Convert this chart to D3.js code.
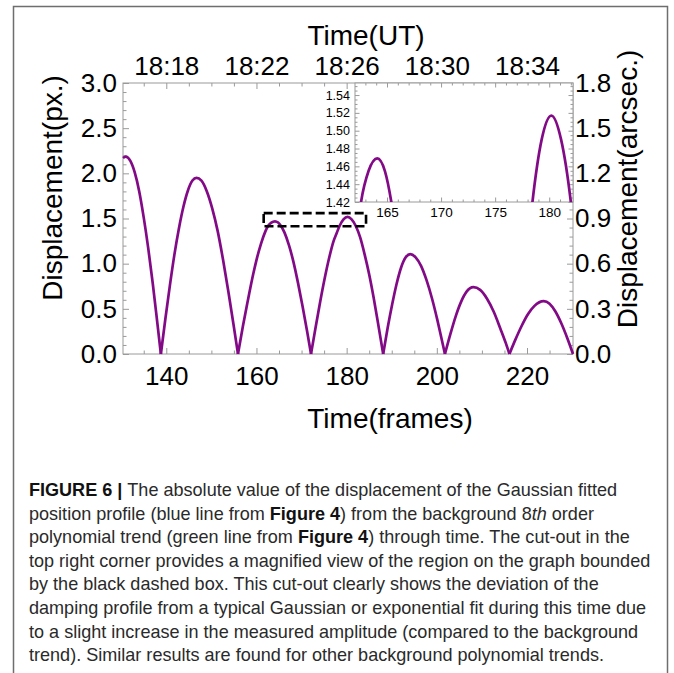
<!DOCTYPE html>
<html><head><meta charset="utf-8">
<script src="https://cdn.jsdelivr.net/npm/d3@7"></script>
<style>body{margin:0;background:#fff}</style>
</head><body>
<svg id="c" width="674" height="673"></svg>
<script>
// ---- data ----
const frames = [
  130.4,131.0,132.0,133.0,134.0,135.0,136.0,137.0,138.0,138.8,
  139.8,140.8,141.8,142.8,143.8,144.8,145.8,146.7,147.8,149.0,150.2,151.4,152.6,153.8,154.9,155.9,
  157.0,158.0,159.0,160.0,161.0,162.0,162.6,163.3,164.1,164.8,165.4,166.2,167.2,168.2,169.2,170.2,171.2,172.1,
  173.1,174.1,175.1,176.1,177.1,177.8,178.45,179.3,180.2,181.1,182.0,183.0,184.0,185.0,186.0,187.0,188.1,
  189.1,190.1,191.1,192.1,193.1,194.1,195.3,196.5,197.7,198.9,200.1,201.0,201.8,
  203.0,204.2,205.4,206.6,208.1,209.6,211.1,212.6,214.1,215.3,216.1,
  217.4,218.8,220.2,221.6,223.7,225.0,226.3,227.6,228.9,230.2
];
const displacement = [
  2.17,2.185,2.14,2.01,1.80,1.51,1.17,0.78,0.35,0,
  0.39,0.76,1.10,1.39,1.63,1.81,1.92,1.95,1.92,1.80,1.61,1.36,1.04,0.68,0.33,0,
  0.31,0.57,0.82,1.04,1.22,1.36,1.42,1.455,1.469,1.455,1.42,1.346,1.205,1.02,0.79,0.535,0.26,0,
  0.29,0.57,0.83,1.06,1.25,1.34,1.42,1.49,1.517,1.49,1.42,1.29,1.10,0.88,0.62,0.33,0,
  0.29,0.55,0.78,0.96,1.07,1.106,1.07,0.976,0.82,0.62,0.38,0.18,0,
  0.22,0.42,0.58,0.69,0.74,0.71,0.615,0.47,0.28,0.12,0,
  0.156,0.31,0.44,0.53,0.585,0.556,0.47,0.34,0.18,0
];
const frameTicks = [140,160,180,200,220];
const timeLabels = ["18:18","18:22","18:26","18:30","18:34"];
const pxTicks = [0,0.5,1.0,1.5,2.0,2.5,3.0];
const arcsecTicks = [0,0.3,0.6,0.9,1.2,1.5,1.8];
const insetXTicks = [165,170,175,180];
const insetYTicks = [1.42,1.44,1.46,1.48,1.50,1.52,1.54];
const boxFrames = [161.6,184.3];
const boxDisp = [1.415,1.56];
const xTitle = "Time(frames)", topTitle = "Time(UT)";
const yTitle = "Displacement(px.)", y2Title = "Displacement(arcsec.)";
const captionLines = [
  [["FIGURE 6 | ","b"],["The absolute value of the displacement of the Gaussian fitted",""]],
  [["position profile (blue line from ",""],["Figure 4","b"],[") from the background 8",""],["th","i"],[" order",""]],
  [["polynomial trend (green line from ",""],["Figure 4","b"],[") through time. The cut-out in the",""]],
  [["top right corner provides a magnified view of the region on the graph bounded",""]],
  [["by the black dashed box. This cut-out clearly shows the deviation of the",""]],
  [["damping profile from a typical Gaussian or exponential fit during this time due",""]],
  [["to a slight increase in the measured amplitude (compared to the background",""]],
  [["trend). Similar results are found for other background polynomial trends.",""]]
];

// ---- drawing ----
const svg = d3.select("#c");
const FONT = "'Liberation Sans', Arial, sans-serif";
const AX = "#9a9a9a";
const M = {left:123, right:573, top:83, bottom:354};
const x = d3.scaleLinear().domain([130.4,230.2]).range([M.left,M.right]);
const y = d3.scaleLinear().domain([0,3]).range([M.bottom,M.top]);
const yArc = d3.scaleLinear().domain([0,1.8]).range([M.bottom,M.top]);

// outer frame
svg.append("rect").attr("x",13.5).attr("y",6.5).attr("width",654).attr("height",720)
  .attr("fill","none").attr("stroke","#6e6e6e").attr("stroke-width",1.5);

function styleAxis(g, fs){
  g.select(".domain").remove();
  g.selectAll(".tick line").attr("stroke",AX).attr("stroke-width",1);
  g.selectAll(".tick text").attr("fill","#000").style("font-family",FONT).style("font-size",fs+"px");
}
function minor(vals, major){ return vals.filter(v=>!major.some(m=>Math.abs(m-v)<1e-6)); }

const fmt1 = d3.format(".1f");
// minor ticks
const xMinor = minor(d3.range(135,231,5), frameTicks);
const yMinor = minor(d3.range(0,3.0001,0.1).map(v=>+v.toFixed(2)), pxTicks);
const aMinor = minor(d3.range(0,1.8001,0.06).map(v=>+v.toFixed(2)), arcsecTicks);

svg.append("g").attr("transform",`translate(0,${M.bottom})`)
  .call(d3.axisBottom(x).tickValues(xMinor).tickFormat("").tickSizeInner(-3.5).tickSizeOuter(0)).call(g=>styleAxis(g,26));
svg.append("g").attr("transform",`translate(0,${M.top})`)
  .call(d3.axisTop(x).tickValues(xMinor).tickFormat("").tickSizeInner(-3.5).tickSizeOuter(0)).call(g=>styleAxis(g,26));
svg.append("g").attr("transform",`translate(${M.left},0)`)
  .call(d3.axisLeft(y).tickValues(yMinor).tickFormat("").tickSizeInner(-3.5).tickSizeOuter(0)).call(g=>styleAxis(g,26));
svg.append("g").attr("transform",`translate(${M.right},0)`)
  .call(d3.axisRight(yArc).tickValues(aMinor).tickFormat("").tickSizeInner(-3.5).tickSizeOuter(0)).call(g=>styleAxis(g,26));

// major axes
svg.append("g").attr("transform",`translate(0,${M.bottom})`)
  .call(d3.axisBottom(x).tickValues(frameTicks).tickFormat(d3.format("d")).tickSizeInner(-6).tickSizeOuter(0).tickPadding(13))
  .call(g=>styleAxis(g,26));
svg.append("g").attr("transform",`translate(0,${M.top})`)
  .call(d3.axisTop(x).tickValues(frameTicks).tickFormat((d,i)=>timeLabels[i]).tickSizeInner(-6).tickSizeOuter(0).tickPadding(8))
  .call(g=>styleAxis(g,26));
svg.append("g").attr("transform",`translate(${M.left},0)`)
  .call(d3.axisLeft(y).tickValues(pxTicks).tickFormat(fmt1).tickSizeInner(-6).tickSizeOuter(0).tickPadding(6))
  .call(g=>styleAxis(g,26));
svg.append("g").attr("transform",`translate(${M.right},0)`)
  .call(d3.axisRight(yArc).tickValues(arcsecTicks).tickFormat(fmt1).tickSizeInner(-6).tickSizeOuter(0).tickPadding(2))
  .call(g=>styleAxis(g,26));

// plot frame
svg.append("rect").attr("x",M.left).attr("y",M.top).attr("width",M.right-M.left).attr("height",M.bottom-M.top)
  .attr("fill","none").attr("stroke",AX).attr("stroke-width",1);

// curve split into humps at zeros
const pts = frames.map((f,i)=>[f,displacement[i]]);
const humps=[]; let cur=[];
pts.forEach(p=>{ cur.push(p); if(p[1]===0 && cur.length>1){ humps.push(cur); cur=[p]; } });
if(cur.length>1) humps.push(cur);
const line = d3.line().x(d=>x(d[0])).y(d=>y(d[1])).curve(d3.curveMonotoneX);
svg.append("g").selectAll("path").data(humps).join("path").attr("d",line)
  .attr("fill","none").attr("stroke","#820a86").attr("stroke-width",2.7).attr("stroke-linejoin","round");

// dashed box
svg.append("rect").attr("x",x(boxFrames[0])).attr("y",y(boxDisp[1]))
  .attr("width",x(boxFrames[1])-x(boxFrames[0])).attr("height",y(boxDisp[0])-y(boxDisp[1]))
  .attr("fill","none").attr("stroke","#000").attr("stroke-width",2.6).attr("stroke-dasharray","9,4");

// inset
const I = {left:355, right:573, top:83, bottom:202};
const xi = d3.scaleLinear().domain([162.04,182.2]).range([I.left,I.right]);
const yi = d3.scaleLinear().domain([1.42,1.5535]).range([I.bottom,I.top]);
const ig = svg.append("g");
ig.append("rect").attr("x",I.left).attr("y",I.top).attr("width",I.right-I.left).attr("height",I.bottom-I.top).attr("fill","#fff");
svg.append("clipPath").attr("id","ic").append("rect").attr("x",I.left).attr("y",I.top).attr("width",I.right-I.left).attr("height",I.bottom-I.top);
const xiMinor = minor(d3.range(163,182.1,1), insetXTicks);
const yiMinor = minor(d3.range(1.42,1.554,0.005).map(v=>+v.toFixed(3)), insetYTicks);
[[d3.axisBottom, I.bottom],[d3.axisTop, I.top]].forEach(([A,t])=>{
  ig.append("g").attr("transform",`translate(0,${t})`).call(A(xi).tickValues(xiMinor).tickFormat("").tickSizeInner(-2.5).tickSizeOuter(0)).call(g=>styleAxis(g,13));
  ig.append("g").attr("transform",`translate(0,${t})`).call(A(xi).tickValues(insetXTicks).tickFormat(A===d3.axisBottom?d3.format("d"):"").tickSizeInner(-4.5).tickSizeOuter(0).tickPadding(5)).call(g=>styleAxis(g,13.5));
});
[[d3.axisLeft, I.left],[d3.axisRight, I.right]].forEach(([A,t])=>{
  ig.append("g").attr("transform",`translate(${t},0)`).call(A(yi).tickValues(yiMinor).tickFormat("").tickSizeInner(-2.5).tickSizeOuter(0)).call(g=>styleAxis(g,13));
  ig.append("g").attr("transform",`translate(${t},0)`).call(A(yi).tickValues(insetYTicks).tickFormat(A===d3.axisLeft?d3.format(".2f"):"").tickSizeInner(-4.5).tickSizeOuter(0).tickPadding(5)).call(g=>styleAxis(g,12.5));
});
ig.append("rect").attr("x",I.left).attr("y",I.top).attr("width",I.right-I.left).attr("height",I.bottom-I.top)
  .attr("fill","none").attr("stroke",AX).attr("stroke-width",1);
const linei = d3.line().x(d=>xi(d[0])).y(d=>yi(d[1])).curve(d3.curveMonotoneX);
ig.append("g").attr("clip-path","url(#ic)").selectAll("path").data(humps).join("path").attr("d",linei)
  .attr("fill","none").attr("stroke","#820a86").attr("stroke-width",2.7);

// titles
const T = (t,xx,yy,rot)=>svg.append("text").text(t).attr("text-anchor","middle")
  .attr("transform",`translate(${xx},${yy})`+(rot?` rotate(${rot})`:""))
  .style("font-family",FONT).style("font-size","28px").attr("fill","#000");
T(topTitle,366,45);
T(xTitle,390,428);
T(yTitle,62,188,-90);
T(y2Title,637,189,-90);

// caption
const capG = svg.append("g");
const rows = captionLines.map((segs,i)=>{
  const g = capG.append("g").attr("transform",`translate(29,${496+i*23.6})`);
  const t = g.append("text").style("font-family",FONT).style("font-size","18px").attr("fill","#2a2a2a");
  segs.forEach(([s,st])=>{
    const ts=t.append("tspan").text(s);
    if(st==="b") ts.style("font-weight","bold").attr("fill","#111");
    if(st==="i") ts.style("font-style","italic");
  });
  return g;
});
const ref = rows[3].select("text").node().getComputedTextLength();
const f = 622/ref;
rows.forEach((g,i)=>g.attr("transform",`translate(29,${496+i*23.6}) scale(${f},1)`));
</script>
</body></html>
